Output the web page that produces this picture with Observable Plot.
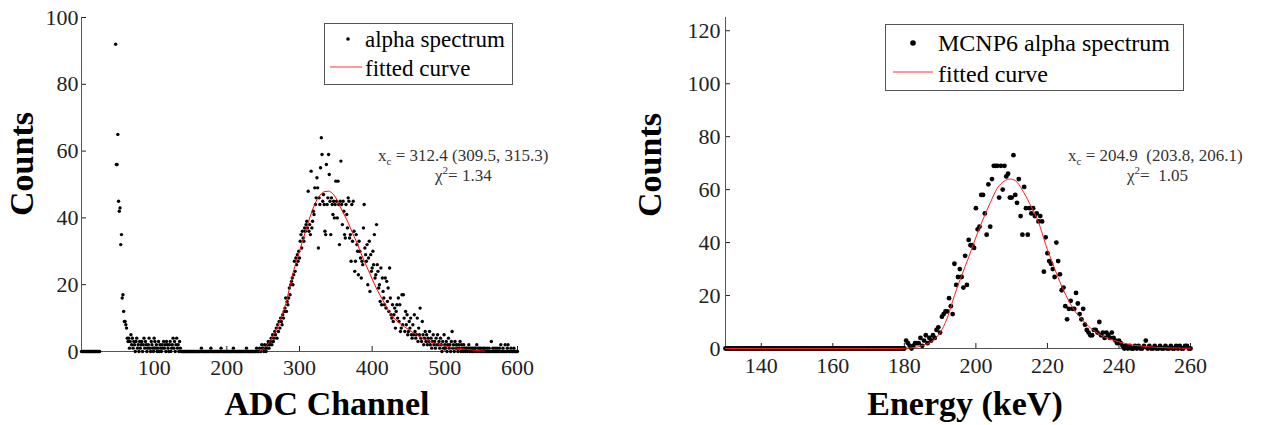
<!DOCTYPE html>
<html>
<head>
<meta charset="utf-8">
<script src="https://cdn.jsdelivr.net/npm/d3@7"></script>
<script src="https://cdn.jsdelivr.net/npm/@observablehq/plot@0.6"></script>
<style>
  body { margin: 0; background: #fff; }
  #wrap { position: relative; width: 1264px; height: 425px; overflow: hidden; }
  #wrap > svg { position: absolute; top: 0; }
  #overlay { left: 0; pointer-events: none; }
</style>
</head>
<body>
<div id="wrap"></div>
<script>
// ---- Measured alpha spectrum: counts per ADC channel (index = channel 0..600) ----
// channels 26-46 were not recorded (null)
const adcCounts = [
  0,0,0,0,0,0,0,0,0,0, 0,0,0,0,0,0,0,0,0,0, 0,0,0,0,0,0,                 // 0-25
  null,null,null,null,null,null,null,null,null,null,
  null,null,null,null,null,null,null,null,null,null,null,                 // 26-46
  92,56,56,65,45,42,43,32,35,16,17,12,9,9,8,7,                            // 47-62
  4,3,4,1,3,5,2,4,1,3,                                                    // 63-72
  2,0,3,4,1,2,0,3,1,2,                                                    // 73-82
  3,0,2,4,1,3,2,0,1,2,                                                    // 83-92
  4,1,0,3,2,1,0,4,3,1,                                                    // 93-102
  2,0,1,3,0,2,1,0,2,1,                                                    // 103-112
  3,1,2,0,3,2,1,0,2,3,                                                    // 113-122
  0,1,2,4,1,3,0,2,4,1,                                                    // 123-132
  2,0,3,1,                                                                // 133-136
  0,0,0,0,0,0,0,0,0,0,                                                    // 137-146
  0,0,0,0,0,0,0,0,0,0,                                                    // 147-156
  0,0,0,0,0,0,0,0,1,0,                                                    // 157-166
  0,0,0,0,0,0,0,0,0,0,                                                    // 167-176
  0,1,0,0,0,0,0,0,0,0,                                                    // 177-186
  0,0,0,0,0,1,0,0,0,0,                                                    // 187-196
  0,0,0,0,0,0,0,0,0,0,                                                    // 197-206
  0,0,1,0,0,0,0,0,0,0,                                                    // 207-216
  0,0,0,0,0,0,0,0,0,0,                                                    // 217-226
  1,0,0,0,0,0,0,0,0,0,                                                    // 227-236
  0,0,0,0,1,0,0,                                                          // 237-243
  0,1,0,0,2,1,                                                            // 244-249
  1,0,2,1,0,1,2,3,1,2,                                                    // 250-259
  3,4,2,5,3,4,6,5,7,4,                                                    // 260-269
  8,6,9,7,10,9,8,11,10,12,                                                // 270-279
  13,16,12,15,14,16,19,17,20,21,                                          // 280-289
  22,20,23,27,24,28,26,29,27,30,                                          // 290-299
  28,33,35,31,36,34,33,37,36,38,                                          // 300-309
  39,37,48,36,38,35,54,37,39,42,                                          // 310-319
  41,49,44,46,52,49,31,46,44,55,                                          // 320-329
  64,59,45,47,44,36,35,56,44,46,                                          // 330-339
  59,53,45,35,46,44,41,45,40,44,                                          // 340-349
  51,45,40,51,44,32,45,57,44,38,                                          // 350-359
  45,42,35,34,44,41,37,46,45,34,                                          // 360-369
  35,27,44,33,45,36,24,27,35,32,                                          // 370-379
  30,23,33,30,28,22,27,26,37,44,                                          // 380-389
  31,29,27,32,20,28,33,18,29,24,                                          // 390-399
  25,30,26,35,22,23,38,26,24,19,                                          // 400-409
  20,15,25,14,22,18,16,14,22,13,                                          // 410-419
  21,15,19,12,25,16,11,10,14,9,                                           // 420-429
  11,13,7,12,14,10,16,9,14,6,                                             // 430-439
  7,17,8,17,10,6,12,8,11,5,                                               // 440-449
  6,9,7,10,5,4,8,5,11,6,                                                  // 450-459
  4,5,10,3,7,5,13,4,3,9,                                                  // 460-469
  5,2,4,6,3,5,2,4,3,6,                                                    // 470-479
  2,4,1,3,5,2,3,1,4,2,                                                    // 480-489
  5,2,3,1,4,2,0,3,1,5,                                                    // 490-499
  2,1,3,0,2,4,1,2,0,3,                                                    // 500-509
  6,1,2,0,3,1,2,1,0,2,                                                    // 510-519
  1,3,0,2,1,0,2,1,0,1,                                                    // 520-529
  1,0,1,2,0,1,0,1,0,1,                                                    // 530-539
  0,1,1,0,2,0,1,0,1,0,                                                    // 540-549
  1,0,0,1,0,1,0,0,1,0,                                                    // 550-559
  0,1,0,0,3,0,1,0,0,1,                                                    // 560-569
  0,0,1,0,0,1,0,2,0,0,                                                    // 570-579
  1,0,0,2,0,0,1,2,0,0,                                                    // 580-589
  0,1,0,0,0,1,0,0,0,0,                                                    // 590-599
  0                                                                       // 600
];

// fitted curve through the measured spectrum
const adcFitChannel = [244,250,255,260,265,270,275,280,285,290,295,300,305,310,315,320,325,330,335,340,
  345,350,355,360,365,370,375,380,385,390,395,400,405,410,415,420,425,430,440,450,460,470,480,490,500,510,520,530,540,550,555];
const adcFitCounts  = [0,0.8,1.8,3.3,5.3,7.5,10.3,13.5,17.8,22.6,26.5,30,33.6,37.2,40.6,43.6,45.8,47.2,47.9,48,
  47.4,46,43.8,41.6,39.5,37,34.5,32,29.2,26.6,24.2,21.7,19.3,17.2,15.2,13.3,11.3,10,8.1,6.6,5.1,3.9,3,2.3,1.7,1.2,0.9,0.6,0.4,0.2,0.1];

// ---- MCNP6 simulated alpha spectrum: 0.5 keV bins starting at 130 keV ----
const mcnpStart = 130;
const mcnpBinWidth = 0.5;
const mcnpCounts = [
  0,0,0,0,0,0,0,0,0,0,  0,0,0,0,0,0,0,0,0,0,    // 130.0-139.5
  0,0,0,0,0,0,0,0,0,0,  0,0,0,0,0,0,0,0,0,0,    // 140.0-149.5
  0,0,0,0,0,0,0,0,0,0,  0,0,0,0,0,0,0,0,0,0,    // 150.0-159.5
  0,0,0,0,0,0,0,0,0,0,  0,0,0,0,0,0,0,0,0,0,    // 160.0-169.5
  0,0,0,0,0,0,0,0,0,0,  0,0,0,0,0,0,0,0,0,0,    // 170.0-179.5
  0,3,2,1,0,1,2,2,2,4,                          // 180.0-184.5
  1,3,5,2,4,3,5,4,7,8,                          // 185.0-189.5
  6,12,13,14,14,19,16,13,32,24,                 // 190.0-194.5
  27,30,27,23,35,24,41,39,39,38,                // 195.0-199.5
  53,45,46,58,58,51,43,62,46,64,                // 200.0-204.5
  69,69,69,57,69,60,69,65,66,57,                // 205.0-209.5
  57,73,58,55,64,50,43,61,53,43,                // 210.0-214.5
  53,51,53,50,51,48,50,48,29,42,                // 215.0-219.5
  36,33,32,30,27,40,33,28,22,23,                // 220.0-224.5
  16,11,15,18,15,15,21,17,13,11,                // 225.0-229.5
  15,9,7,6,5,5,7,7,6,10,                        // 230.0-234.5
  5,6,4,6,5,4,6,4,3,2,                          // 235.0-239.5
  3,2,1,0,1,0,1,0,0,1,                          // 240.0-244.5
  0,1,0,0,1,3,0,1,0,0,                          // 245.0-249.5
  1,0,0,1,0,0,1,0,0,1,                          // 250.0-254.5
  0,0,1,0,1,0,0,1,1,0,                          // 255.0-259.5
  0                                             // 260.0
];

// fitted curve through the simulated spectrum
const mcnpFitEnergy = [130,150,170,178,180,183,185,188,190,192,194,196,198,200,202,204,206,208,209.5,211,
  212,213,214,215,216,217,218,219,220,221,222,223,224,225,226,227,228,229,230,231,232,233,234,235,236,237,238,240,242,245,248,250,255,260];
const mcnpFitCounts  = [0,0,0,0,0.1,0.4,1.1,3,6,11.5,20,27.5,34.5,42,48.8,55,60.5,63.3,64,63.4,
  62,59.8,57.5,54.8,52.2,49.4,45.8,41.5,37.3,33.8,30.2,26.8,23.5,20.6,17.9,15.5,13.5,12,10.5,9,7.8,6.7,5.8,5,4.3,3.8,3.3,2.5,1.8,1.1,0.7,0.5,0.2,0.1];

// axis ticks
const adcTicks = [100, 200, 300, 400, 500, 600];
const adcCountTicks = [0, 20, 40, 60, 80, 100];
const energyTicks = [140, 160, 180, 200, 220, 240, 260];
const mcnpCountTicks = [0, 20, 40, 60, 80, 100, 120];

// ---- tables for the marks ----
const adcPoints = adcCounts
  .map((c, i) => ({channel: i, counts: c}))
  .filter(d => d.counts !== null);
const adcFit = adcFitChannel.map((ch, i) => ({channel: ch, counts: adcFitCounts[i]}));
const mcnpPoints = mcnpCounts.map((c, i) => ({energy: mcnpStart + i * mcnpBinWidth, counts: c}));
const mcnpFit = mcnpFitEnergy.map((e, i) => ({energy: e, counts: mcnpFitCounts[i]}));

const serif = '"Liberation Serif", "Times New Roman", serif';
const axisGrey = "#555";
const baseStyle = {fontFamily: serif, fontSize: "22px", color: "#222", background: "transparent", overflow: "visible"};

const leftChart = Plot.plot({
  width: 620, height: 425,
  marginLeft: 81, marginRight: 103, marginTop: 17, marginBottom: 74,
  x: {domain: [0, 600]},
  y: {domain: [0, 100]},
  style: baseStyle,
  marks: [
    Plot.axisX({ticks: adcTicks, tickSize: -5, tickPadding: 13, label: null}),
    Plot.axisY({ticks: adcCountTicks, tickSize: -5, tickPadding: 8, label: null}),
    Plot.ruleX([0], {stroke: axisGrey}),
    Plot.ruleY([0], {stroke: axisGrey}),
    Plot.dot(adcPoints, {x: "channel", y: "counts", r: 1.7, fill: "#000", stroke: null}),
    Plot.line(adcFit, {x: "channel", y: "counts", stroke: "#ff0000", strokeWidth: 1, curve: "monotone-x"})
  ]
});

const rightChart = Plot.plot({
  width: 644, height: 425,
  marginLeft: 105, marginRight: 74, marginTop: 17, marginBottom: 77,
  x: {domain: [130, 260]},
  y: {domain: [0, 125]},
  style: baseStyle,
  marks: [
    Plot.axisX({ticks: energyTicks, tickSize: -5, tickPadding: 14, label: null}),
    Plot.axisY({ticks: mcnpCountTicks, tickSize: -5, tickPadding: 10, label: null}),
    Plot.ruleX([130], {stroke: axisGrey}),
    Plot.ruleY([0], {stroke: axisGrey}),
    Plot.dot(mcnpPoints, {x: "energy", y: "counts", r: 2.4, fill: "#000", stroke: null}),
    Plot.line(mcnpFit, {x: "energy", y: "counts", stroke: "#ff2020", strokeWidth: 1, curve: "monotone-x"})
  ]
});

const wrap = document.getElementById("wrap");
leftChart.style.left = "0px";
rightChart.style.left = "620px";
wrap.appendChild(leftChart);
wrap.appendChild(rightChart);

// ---- titles, legends and fit annotations ----
const ov = d3.select(wrap).append("svg")
  .attr("id", "overlay")
  .attr("width", 1264).attr("height", 425)
  .style("font-family", serif);

function axisTitles(cx, baselineX, cy, xTitle) {
  ov.append("text")
    .attr("transform", `translate(${baselineX},${cy}) rotate(-90)`)
    .attr("text-anchor", "middle")
    .attr("font-size", 34).attr("font-weight", "bold").attr("fill", "#000")
    .text("Counts");
  ov.append("text")
    .attr("x", cx).attr("y", 415)
    .attr("text-anchor", "middle")
    .attr("font-size", 34).attr("font-weight", "bold").attr("fill", "#000")
    .text(xTitle);
}
axisTitles(327, 33, 164, "ADC Channel");
axisTitles(965, 661, 165, "Energy (keV)");

function legend({x, y, w, h, fontSize, textX, base1, base2, dotX, dotY, dotR, lineX1, lineX2, lineY, label}) {
  const g = ov.append("g");
  g.append("rect").attr("x", x).attr("y", y).attr("width", w).attr("height", h)
    .attr("fill", "#fff").attr("stroke", "#555").attr("stroke-width", 1);
  g.append("circle").attr("cx", dotX).attr("cy", dotY).attr("r", dotR).attr("fill", "#000");
  g.append("line").attr("x1", lineX1).attr("x2", lineX2).attr("y1", lineY).attr("y2", lineY)
    .attr("stroke", "#ff3030").attr("stroke-width", 1);
  g.append("text").attr("x", textX).attr("y", base1).attr("font-size", fontSize).attr("fill", "#000").text(label);
  g.append("text").attr("x", textX).attr("y", base2).attr("font-size", fontSize).attr("fill", "#000").text("fitted curve");
}
legend({x: 324.5, y: 23.5, w: 188, h: 61, fontSize: 23, textX: 365, base1: 47, base2: 76,
  dotX: 348, dotY: 39, dotR: 1.8, lineX1: 330, lineX2: 362, lineY: 67, label: "alpha spectrum"});
legend({x: 885.5, y: 24.5, w: 298, h: 66, fontSize: 24, textX: 938, base1: 51, base2: 82,
  dotX: 913, dotY: 43, dotR: 2.8, lineX1: 893, lineX2: 933, lineY: 72, label: "MCNP6 alpha spectrum"});

function fitNote(x1, y1, centroid, x2, y2, chi) {
  const t1 = ov.append("text").attr("x", x1).attr("y", y1)
    .attr("font-size", 17).attr("fill", "#333").attr("xml:space", "preserve").style("white-space", "pre");
  t1.append("tspan").text("x");
  t1.append("tspan").attr("font-size", 11).attr("dy", 4).text("c");
  t1.append("tspan").attr("dy", -4).text(" = " + centroid);
  const t2 = ov.append("text").attr("x", x2).attr("y", y2)
    .attr("font-size", 17).attr("fill", "#333").attr("xml:space", "preserve").style("white-space", "pre");
  t2.append("tspan").text("χ");
  t2.append("tspan").attr("font-size", 11).attr("dy", -7).text("2");
  t2.append("tspan").attr("dy", 7).text("= " + chi);
}
fitNote(378, 161, "312.4 (309.5, 315.3)", 435, 181, "1.34");
fitNote(1068, 161, "204.9  (203.8, 206.1)", 1127, 181, " 1.05");
</script>
</body>
</html>
